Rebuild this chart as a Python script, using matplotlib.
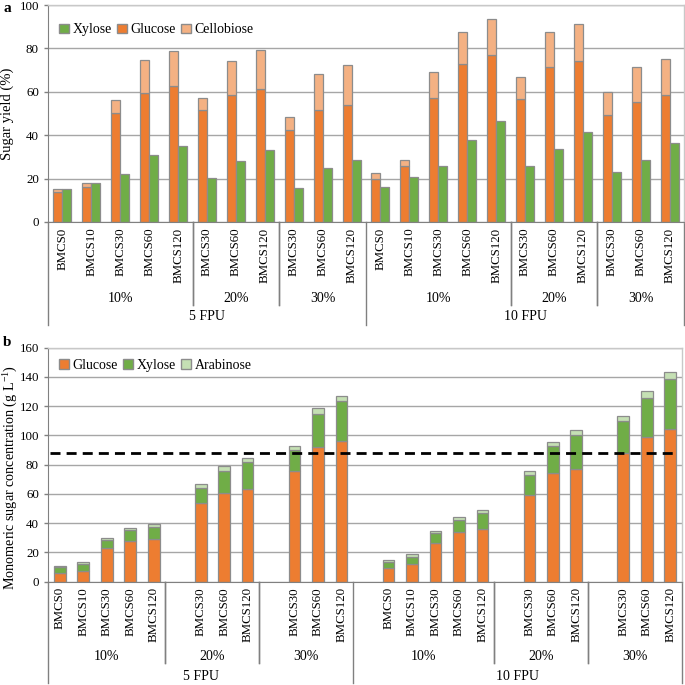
import matplotlib
matplotlib.use('Agg')
import matplotlib.pyplot as plt
from matplotlib.patches import Patch
from matplotlib.lines import Line2D
import matplotlib.transforms as mtrans

plt.rcParams['font.family'] = ['Liberation Serif', 'DejaVu Serif']
plt.rcParams['mathtext.fontset'] = 'custom'
plt.rcParams['mathtext.rm'] = 'Liberation Serif'

# ---------------- data ----------------
fpu_levels = ['5 FPU', '10 FPU']
solid_levels = ['10%', '20%', '30%']
samples_10 = ['BMCS0', 'BMCS10', 'BMCS30', 'BMCS60', 'BMCS120']
samples_20 = ['BMCS30', 'BMCS60', 'BMCS120']
samples_30 = ['BMCS30', 'BMCS60', 'BMCS120']
samples_by_solid = {'10%': samples_10, '20%': samples_20, '30%': samples_30}

# panel a: sugar yield (%)
a_xylose = [15.0, 18.2, 21.9, 30.9, 34.9, 20.1, 28.3, 33.2, 15.7, 24.8, 28.7,
            16.1, 20.8, 26.0, 37.7, 46.6, 25.7, 33.8, 41.5, 23.1, 28.8, 36.3]
a_glucose = [13.8, 16.2, 50.2, 59.4, 62.8, 51.7, 58.5, 61.4, 42.4, 51.7, 54.0,
             19.9, 25.7, 57.1, 72.6, 76.9, 56.7, 71.2, 74.3, 49.3, 55.1, 58.3]
a_cellobiose = [1.5, 2.0, 6.1, 15.2, 16.0, 5.4, 15.9, 17.8, 6.1, 16.3, 18.3,
                2.6, 3.1, 12.1, 15.0, 16.7, 10.2, 16.4, 17.1, 10.7, 16.3, 16.7]

# panel b: monomeric sugar concentration (g/L)
b_glucose = [5.9, 7.3, 23.2, 27.5, 28.8, 53.4, 60.6, 63.6, 75.4, 91.8, 96.1,
             9.0, 11.7, 26.5, 33.6, 35.6, 59.0, 74.5, 77.2, 88.2, 98.6, 104.3]
b_xylose = [3.7, 4.5, 5.5, 7.5, 8.7, 10.9, 15.3, 18.4, 14.8, 23.0, 27.3,
            4.1, 5.2, 6.6, 8.8, 11.6, 14.1, 18.4, 23.2, 21.8, 27.3, 34.1]
b_arabinose = [1.3, 1.4, 1.3, 1.3, 1.8, 2.2, 2.9, 2.7, 2.5, 3.8, 3.6,
               1.6, 1.9, 1.4, 1.8, 1.8, 2.5, 2.5, 3.0, 3.4, 4.3, 5.0]
b_threshold = 88

C_ORANGE = '#ED7D31'
C_GREEN = '#70AD47'
C_LORANGE = '#F4B183'
C_LGREEN = '#C5E0B4'
EDGE = '#8C8C8C'
GRID = '#A6A6A6'
AXC = '#808080'

FIG_PX = 685


def layout(gap):
    pos, labels, solid_spans, fpu_spans = [], [], [], []
    x = 0
    first = True
    for fpu in fpu_levels:
        fstart = x
        for solid in solid_levels:
            sstart = x
            if gap and not first:
                x += 1
            for s in samples_by_solid[solid]:
                pos.append(x)
                labels.append(s)
                x += 1
            solid_spans.append((sstart, x, solid))
            first = False
        fpu_spans.append((fstart, x, fpu))
    return pos, labels, solid_spans, fpu_spans, x


def style_axes(ax, ymax, ystep, n):
    ax.set_xlim(-0.5, n - 0.5)
    ax.set_ylim(0, ymax)
    ax.set_yticks(range(0, ymax + 1, ystep))
    ax.yaxis.grid(True, color=GRID, lw=1.0)
    ax.set_axisbelow(True)
    for side in ['top', 'right']:
        ax.spines[side].set_color('#C8C8C8')
        ax.spines[side].set_linewidth(1.0)
    ax.spines['left'].set_color(AXC)
    ax.spines['bottom'].set_color(AXC)
    ax.tick_params(axis='y', length=3, width=1, color=AXC, pad=3.5, labelsize=9.3)
    ax.tick_params(axis='x', length=0, pad=4, labelsize=9.3)


def category_axis(ax, pos, labels, solid_spans, fpu_spans, n,
                  solid_label_px, fpu_label_px, solid_line_px, fpu_line_px):
    ax.set_xticks(pos)
    ax.set_xticklabels(labels, rotation=90, va='top', ha='center')
    h_px = ax.get_position().height * FIG_PX
    tr = mtrans.blended_transform_factory(ax.transData, ax.transAxes)
    f = lambda px: -px / h_px
    bounds_fpu = set()
    for (s, e, name) in fpu_spans:
        bounds_fpu.add(s - 0.5)
        bounds_fpu.add(e - 0.5)
        ax.text((s + e - 1) / 2, f(fpu_label_px), name, transform=tr,
                ha='center', va='center', fontsize=10)
    for (s, e, name) in solid_spans:
        ax.text((s + e - 1) / 2, f(solid_label_px), name, transform=tr,
                ha='center', va='center', fontsize=10)
        for b in (s - 0.5, e - 0.5):
            if b not in bounds_fpu:
                ax.add_line(Line2D([b, b], [0, f(solid_line_px)], transform=tr,
                                   color=AXC, lw=1.0, clip_on=False))
    for b in sorted(bounds_fpu):
        ax.add_line(Line2D([b, b], [0, f(fpu_line_px)], transform=tr,
                           color=AXC, lw=1.0, clip_on=False))


fig = plt.figure(figsize=(FIG_PX / 100, FIG_PX / 100), dpi=100)

# ---------------- panel a ----------------
axa = fig.add_axes([48 / FIG_PX, 1 - 222 / FIG_PX, 636 / FIG_PX, 217 / FIG_PX])
pos_a, lab_a, ss_a, fs_a, n_a = layout(False)
w = 0.31
xg = [p - w / 2 for p in pos_a]
xx = [p + w / 2 for p in pos_a]
axa.bar(xg, a_glucose, width=w, color=C_ORANGE, edgecolor=EDGE, lw=0.9, label='Glucose')
axa.bar(xg, a_cellobiose, bottom=a_glucose, width=w, color=C_LORANGE, edgecolor=EDGE,
        lw=0.9, label='Cellobiose')
axa.bar(xx, a_xylose, width=w, color=C_GREEN, edgecolor=EDGE, lw=0.9, label='Xylose')
style_axes(axa, 100, 20, n_a)
category_axis(axa, pos_a, lab_a, ss_a, fs_a, n_a,
              solid_label_px=76, fpu_label_px=95, solid_line_px=83, fpu_line_px=103)
axa.set_ylabel('Sugar yield (%)', fontsize=10.5)
axa.yaxis.set_label_coords(-0.053, 0.5)
ha = [Patch(facecolor=C_GREEN, edgecolor=EDGE, label='Xylose'),
      Patch(facecolor=C_ORANGE, edgecolor=EDGE, label='Glucose'),
      Patch(facecolor=C_LORANGE, edgecolor=EDGE, label='Cellobiose')]
axa.legend(handles=ha, loc='upper left', bbox_to_anchor=(0.0, 0.967), ncol=3, frameon=False,
           fontsize=10, handlelength=0.7, handleheight=0.7, handletextpad=0.25,
           columnspacing=0.4, borderaxespad=0.4)
fig.text(3 / FIG_PX, 1 - 8 / FIG_PX, 'a', fontweight='bold', fontsize=11, va='center')

# ---------------- panel b ----------------
axb = fig.add_axes([48 / FIG_PX, 1 - 581.5 / FIG_PX, 634 / FIG_PX, 233.8 / FIG_PX])
pos_b, lab_b, ss_b, fs_b, n_b = layout(True)
wb = 0.5
b_gx = [g + x for g, x in zip(b_glucose, b_xylose)]
axb.bar(pos_b, b_glucose, width=wb, color=C_ORANGE, edgecolor=EDGE, lw=0.9)
axb.bar(pos_b, b_xylose, bottom=b_glucose, width=wb, color=C_GREEN, edgecolor=EDGE, lw=0.9)
axb.bar(pos_b, b_arabinose, bottom=b_gx, width=wb, color=C_LGREEN, edgecolor=EDGE, lw=0.9)
axb.axhline(b_threshold, xmin=0.003, xmax=0.99, color='black', lw=2.0,
            dashes=(3.6, 2.2), zorder=5)
style_axes(axb, 160, 20, n_b)
category_axis(axb, pos_b, lab_b, ss_b, fs_b, n_b,
              solid_label_px=75, fpu_label_px=95, solid_line_px=81.5, fpu_line_px=101.5)
axb.set_ylabel(r'Monomeric sugar concentration (g L$^{\mathregular{-1}}$)', fontsize=10.2)
axb.yaxis.set_label_coords(-0.046, 0.447)
hb = [Patch(facecolor=C_ORANGE, edgecolor=EDGE, label='Glucose'),
      Patch(facecolor=C_GREEN, edgecolor=EDGE, label='Xylose'),
      Patch(facecolor=C_LGREEN, edgecolor=EDGE, label='Arabinose')]
axb.legend(handles=hb, loc='upper left', bbox_to_anchor=(0.0, 1.0), ncol=3, frameon=False,
           fontsize=10, handlelength=0.7, handleheight=0.7, handletextpad=0.25,
           columnspacing=0.4, borderaxespad=0.4)
fig.text(3 / FIG_PX, 1 - 343 / FIG_PX, 'b', fontweight='bold', fontsize=11, va='center')

fig.savefig('out.png', dpi=100)
